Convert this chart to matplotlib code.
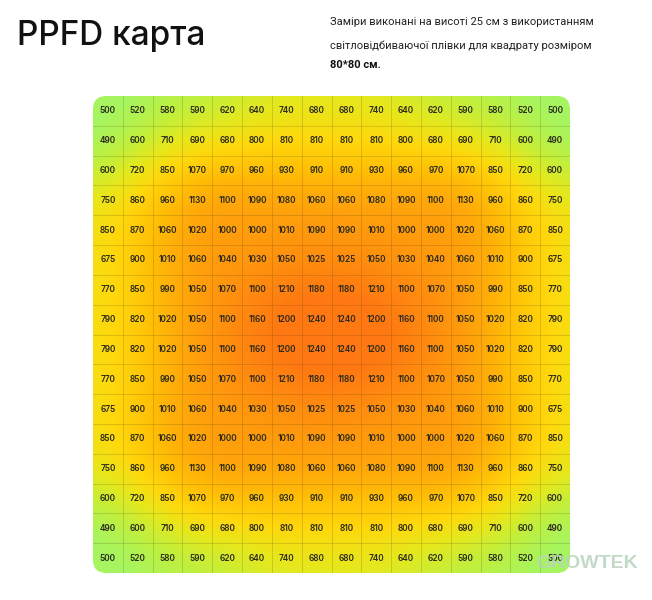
import numpy as np
import matplotlib
matplotlib.use("Agg")
import matplotlib.pyplot as plt
from matplotlib.colors import LinearSegmentedColormap, Normalize
from matplotlib.patches import FancyBboxPatch

# PPFD readings (umol/m2/s), top-left quarter row by row; the map is symmetric
quarter_rows = [
    [500, 520, 580, 590, 620, 640, 740, 680],
    [490, 600, 710, 690, 680, 800, 810, 810],
    [600, 720, 850, 1070, 970, 960, 930, 910],
    [750, 860, 960, 1130, 1100, 1090, 1080, 1060],
    [850, 870, 1060, 1020, 1000, 1000, 1010, 1090],
    [675, 900, 1010, 1060, 1040, 1030, 1050, 1025],
    [770, 850, 990, 1050, 1070, 1100, 1210, 1180],
    [790, 820, 1020, 1050, 1100, 1160, 1200, 1240],
]

title = "PPFD карта"
note_lines = ["Заміри виконані на висоті 25 см з використанням",
              "світловідбиваючої плівки для квадрату розміром"]
note_bold = "80*80 см."

# mirror the quarter to get the full 16x16 grid
top = np.array([r + r[::-1] for r in quarter_rows])
grid = np.vstack([top, top[::-1]])
n = grid.shape[0]

# smooth background: upsample the readings and blur them (the original is a soft gradient)
up = 10
big = np.kron(grid.astype(float), np.ones((up, up)))
sigma = 1.2 * up
r = int(3 * sigma)
x = np.arange(-r, r + 1)
kern = np.exp(-x**2 / (2 * sigma**2))
kern /= kern.sum()
pad = np.pad(big, r, mode="edge")
pad = np.apply_along_axis(lambda v: np.convolve(v, kern, mode="valid"), 0, pad)
smooth = np.apply_along_axis(lambda v: np.convolve(v, kern, mode="valid"), 1, pad)

cmap = LinearSegmentedColormap.from_list("ppfd", [
    (0.00, "#a6f560"),
    (0.15, "#c2ef3c"),
    (0.30, "#e6e81c"),
    (0.45, "#ffd80c"),
    (0.62, "#ffbe06"),
    (0.80, "#ff9e0c"),
    (1.00, "#ff7812"),
])
norm = Normalize(540, 1160)

fig = plt.figure(figsize=(6.52, 6.0), dpi=100)
fig.patch.set_facecolor("white")
ax = fig.add_axes([93 / 652, 1 - 573 / 600, 477 / 652, 477 / 600])

im = ax.imshow(smooth, cmap=cmap, norm=norm, interpolation="bilinear",
               extent=(0, n, n, 0), aspect="auto")
clip = FancyBboxPatch((0, 0), n, n, boxstyle="round,pad=0,rounding_size=0.45",
                      transform=ax.transData, facecolor="none", edgecolor="none")
ax.add_patch(clip)
im.set_clip_path(clip)

for k in range(1, n):
    ax.axvline(k, color="#4a3e10", lw=0.6, alpha=0.22)
    ax.axhline(k, color="#4a3e10", lw=0.6, alpha=0.22)

for i in range(n):
    for j in range(n):
        ax.text(j + 0.5, i + 0.5, str(grid[i, j]), ha="center", va="center",
                fontsize=6, color="#2b2a1c", family="Inter", fontweight="semibold")

ax.set_xlim(0, n)
ax.set_ylim(n, 0)
ax.axis("off")

fig.text(17 / 652, 1 - 36 / 600, title, fontsize=24, family="Inter",
         fontweight="medium", va="center", ha="left", color="#111111")
ys = [22, 46]
for y, line in zip(ys, note_lines):
    fig.text(330 / 652, 1 - y / 600, line, fontsize=8, family="Roboto",
             va="center", ha="left", color="#222222")
fig.text(330 / 652, 1 - 65 / 600, note_bold, fontsize=8, family="Roboto",
         fontweight="bold", va="center", ha="left", color="#111111")

# watermark
fig.text(587 / 652, 1 - 564 / 600, "GROWTEK", fontsize=14,
         family="Liberation Sans", fontweight="bold",
         ha="center", va="center", color="#b9d3bd", alpha=0.85)

fig.savefig("out.png", dpi=100)
